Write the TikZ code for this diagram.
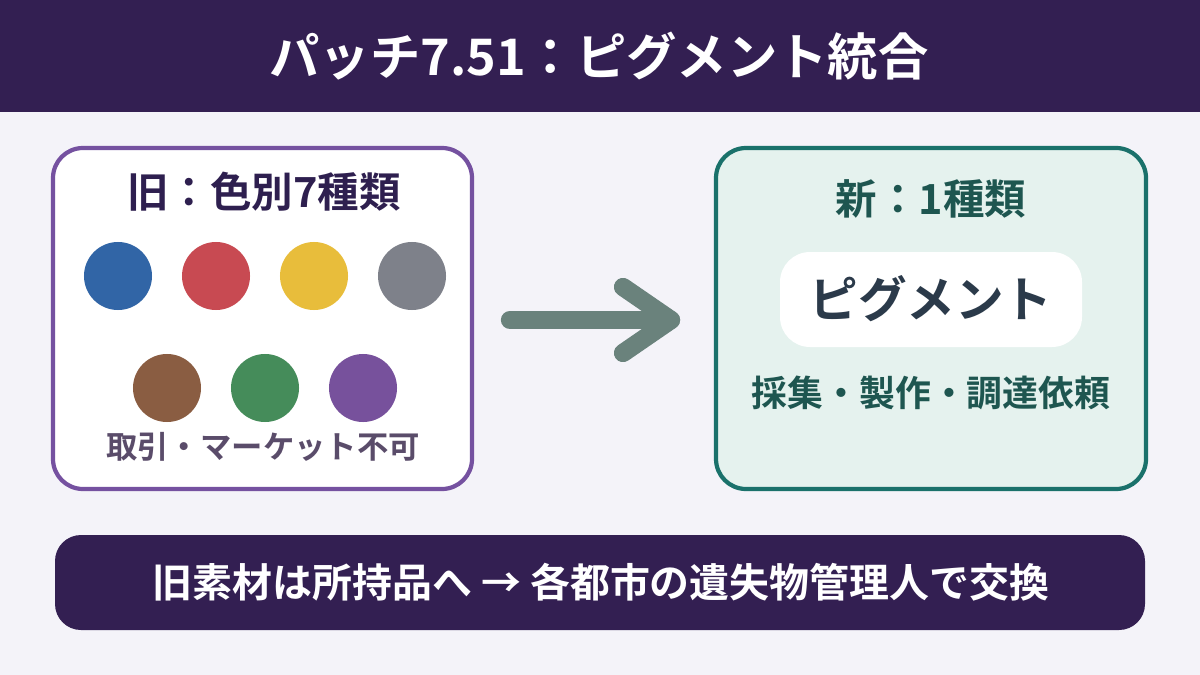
\documentclass[tikz,border=0pt]{standalone}
\usepackage{fontspec}
\setmainfont{Noto Sans CJK JP}[BoldFont={Noto Sans CJK JP Bold}]
\definecolor{bgc}{HTML}{F4F3F9}
\definecolor{hdr}{HTML}{331F52}
\definecolor{lborder}{HTML}{7551A0}
\definecolor{ltitle}{HTML}{2E1F4F}
\definecolor{lnote}{HTML}{5A4C6A}
\definecolor{rborder}{HTML}{1A716B}
\definecolor{rfill}{HTML}{E5F2EE}
\definecolor{rtitle}{HTML}{1E5650}
\definecolor{pig}{HTML}{2B3A4A}
\definecolor{arr}{HTML}{6A827C}
\definecolor{cblue}{HTML}{3165A6}
\definecolor{cred}{HTML}{C84A52}
\definecolor{cyellow}{HTML}{E8BD3B}
\definecolor{cgray}{HTML}{7E818A}
\definecolor{cbrown}{HTML}{8A5D42}
\definecolor{cgreen}{HTML}{458C5A}
\definecolor{cpurple}{HTML}{77519C}
\tikzset{
  txt/.style={inner sep=0pt},
  arrline/.style={arr, line width=13pt, line cap=round, line join=round},
}
\newcommand{\fsz}[1]{\fontsize{#1pt}{#1pt}\selectfont\bfseries}
\begin{document}
\begin{tikzpicture}[x=0.025cm, y=-0.025cm]
\useasboundingbox (0,0) rectangle (1200,675);
\fill[bgc] (0,0) rectangle (1200,675);
\fill[hdr] (0,0) rectangle (1200,112);
\node[txt, text=white, font=\fsz{35.8}] (title) at (599,56) {パッチ7.51：ピグメント統合};

% left box
\draw[draw=lborder, line width=3pt, fill=white, rounded corners=0.75cm] (53,148) rectangle (472,489);
\node[txt, text=ltitle, font=\fsz{29.5}] (ltitle) at (264,192) {旧：色別7種類};
\foreach \n/\x/\y/\c in {a/118/276/cblue, b/216/276/cred, c/314/276/cyellow, d/412/276/cgray, e/167/388/cbrown, f/265/388/cgreen, g/363/388/cpurple}{
  \node[circle, fill=\c, minimum size=1.7cm, inner sep=0pt] (dot\n) at (\x,\y) {};
}
\node[txt, text=lnote, font=\fsz{22.3}] (lnote) at (263,447) {取引・マーケット不可};

% right box
\draw[draw=rborder, line width=3pt, fill=rfill, rounded corners=0.75cm] (716,148) rectangle (1146,489);
\node[txt, text=rtitle, font=\fsz{29.5}] (rtitle) at (931,199) {新：1種類};
\fill[white, rounded corners=0.75cm] (780,252) rectangle (1082,347);
\node[txt, text=pig, font=\fsz{34.6}] (pig) at (931,299) {ピグメント};
\node[txt, text=rtitle, font=\fsz{25.5}] (rnote) at (931,393) {採集・製作・調達依頼};

% arrow
\coordinate (as) at (510,320);
\coordinate (ae) at (671,320);
\coordinate (au) at (623,287);
\coordinate (ad) at (623,353);
\draw[arrline] (as) -- (ae);
\draw[arrline] (au) -- (ae) -- (ad);

% bottom banner
\fill[hdr, rounded corners=0.65cm] (55,535) rectangle (1145,630);
\node[txt, text=white, font=\fsz{28.4}] (bottom) at (601,582) {旧素材は所持品へ → 各都市の遺失物管理人で交換};
\end{tikzpicture}
\end{document}
